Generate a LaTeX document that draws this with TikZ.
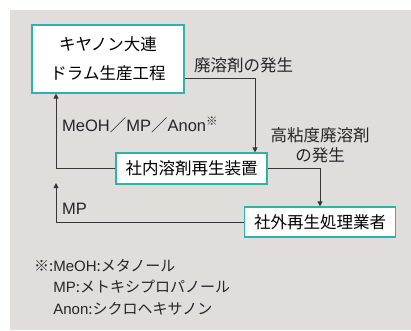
\documentclass[tikz,border=0pt]{standalone}
\usepackage{fontspec}
\setmainfont{Noto Sans CJK JP}
\newfontfamily\latinfont{Liberation Sans}
\usetikzlibrary{
  arrows.meta,
  positioning
}
\newcommand{\lt}[1]{{\latinfont #1}}
\definecolor{panelgray}{RGB}{225,221,218}
\definecolor{boxteal}{RGB}{45,180,170}
\definecolor{linegray}{RGB}{55,55,55}
\tikzset{
  procbox/.style={
    draw=boxteal,
    fill=white,
    line width=1.2pt,
    align=center,
    inner sep=0pt,
    font=\fontsize{16.5}{29}\selectfont
  },
  flowarrow/.style={-{Triangle[length=5pt,width=5pt]},line width=0.9pt,draw=linegray},
  flowlabel/.style={inner sep=0pt,text=black!85,font=\fontsize{16.5}{20}\selectfont},
  notetext/.style={inner sep=0pt,text=black!85,align=left,font=\fontsize{15}{21.5}\selectfont}
}

\begin{document}
\begin{tikzpicture}[x=1pt,y=1pt]
  \useasboundingbox (0,0) rectangle (411,330);
  \fill[panelgray] (10,0) rectangle (411,320);

  \node[procbox,minimum width=152pt,minimum height=68pt] (drum) at (108,271) {
    キヤノン大連\\ドラム生産工程
  };
  \node[procbox,minimum width=151pt,minimum height=31pt] (inhouse) at (191.5,161.5) {社内溶剤再生装置};
  \node[procbox,minimum width=151pt,minimum height=30pt] (outside) at (320,108) {社外再生処理業者};

  \node[flowlabel,anchor=west] (wastelbl) at (194,265) {廃溶剤の発生};
  \node[flowlabel,anchor=west] (reclbl) at (62,205) {\lt{MeOH}／\lt{MP}／\lt{Anon}\textsuperscript{※}};
  \node[flowlabel,align=center] (viscouslbl) at (320,185) {高粘度廃溶剤\\の発生};
  \node[flowlabel,anchor=west] (mplbl) at (62,121) {\lt{MP}};

  \draw[flowarrow] ([yshift=-19pt]drum.east) -| ([xshift=63.5pt]inhouse.north);
  \draw[flowarrow] (inhouse.west) -| ([xshift=-52pt]drum.south);
  \draw[flowarrow] (inhouse.east) -| (outside.north);
  \coordinate (mpend) at (56,147);
  \draw[flowarrow] (outside.west) -| (mpend);

  \node[notetext,anchor=west] (note) at (34,43) {
    ※:\lt{MeOH}:メタノール\\
    \hphantom{※:}\lt{MP}:メトキシプロパノール\\
    \hphantom{※:}\lt{Anon}:シクロヘキサノン
  };
\end{tikzpicture}
\end{document}
